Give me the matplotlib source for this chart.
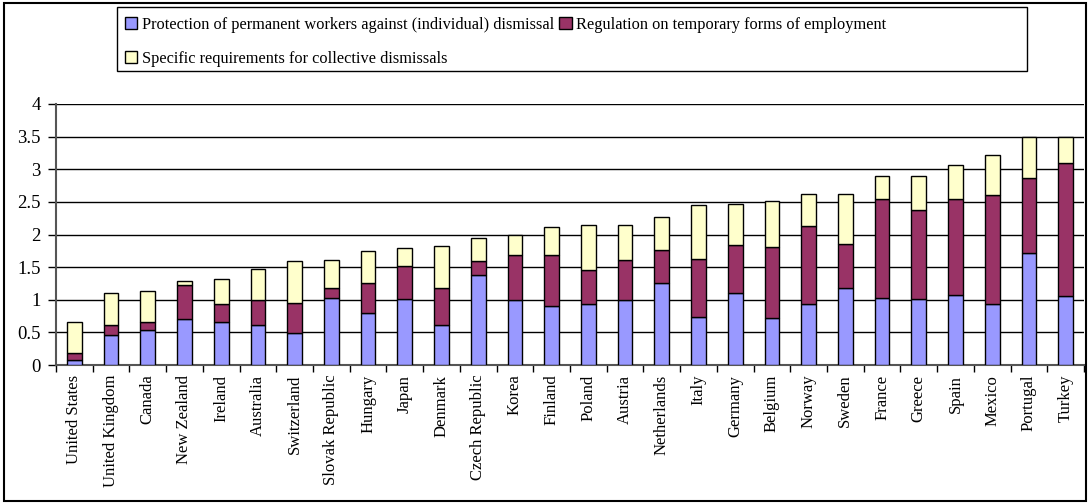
import numpy as np
import matplotlib
matplotlib.use('Agg')
import matplotlib.pyplot as plt
from matplotlib.patches import Rectangle

plt.rcParams['font.family'] = ['Liberation Serif', 'DejaVu Serif']

# Countries ordered by overall EPL strictness
countries = ['United States', 'United Kingdom', 'Canada', 'New Zealand', 'Ireland',
             'Australia', 'Switzerland', 'Slovak Republic', 'Hungary', 'Japan',
             'Denmark', 'Czech Republic', 'Korea', 'Finland', 'Poland', 'Austria',
             'Netherlands', 'Italy', 'Germany', 'Belgium', 'Norway', 'Sweden',
             'France', 'Greece', 'Spain', 'Mexico', 'Portugal', 'Turkey']

# Cumulative heights of each stacked component
regular = [0.07, 0.46, 0.54, 0.70, 0.66, 0.62, 0.49, 1.02, 0.79, 1.01,
           0.62, 1.38, 0.99, 0.91, 0.93, 0.99, 1.26, 0.74, 1.10, 0.72,
           0.93, 1.18, 1.02, 1.01, 1.08, 0.93, 1.72, 1.06]
temporary_top = [0.18, 0.62, 0.66, 1.22, 0.93, 0.99, 0.95, 1.18, 1.26, 1.52,
                 1.18, 1.59, 1.69, 1.69, 1.45, 1.61, 1.76, 1.62, 1.84, 1.81,
                 2.13, 1.86, 2.54, 2.37, 2.54, 2.60, 2.87, 3.10]
total = [0.66, 1.11, 1.13, 1.28, 1.32, 1.47, 1.59, 1.61, 1.75, 1.79,
         1.83, 1.94, 2.00, 2.12, 2.14, 2.15, 2.27, 2.45, 2.47, 2.51,
         2.62, 2.62, 2.89, 2.89, 3.06, 3.22, 3.50, 3.50]

labels = ['Protection of permanent workers against (individual) dismissal',
          'Regulation on temporary forms of employment',
          'Specific requirements for collective dismissals']
colors = ['#9999FF', '#993366', '#FFFFCC']

regular = np.array(regular)
temporary = np.array(temporary_top) - regular
collective = np.array(total) - np.array(temporary_top)

fig = plt.figure(figsize=(10.9, 5.03), dpi=100)
ax = fig.add_axes([56 / 1090, 1 - 365 / 503, 1028 / 1090, 261 / 503])

x = np.arange(len(countries))
w = 0.4
b1 = ax.bar(x, regular, w, color=colors[0], edgecolor='black', linewidth=1, zorder=3)
b2 = ax.bar(x, temporary, w, bottom=regular, color=colors[1], edgecolor='black',
            linewidth=1, zorder=3)
b3 = ax.bar(x, collective, w, bottom=np.array(temporary_top), color=colors[2],
            edgecolor='black', linewidth=1, zorder=3)

ax.set_xlim(-0.5, len(countries) - 0.5)
ax.set_ylim(0, 4)
ax.set_yticks(np.arange(0, 4.01, 0.5))
ax.set_yticklabels(['0', '0.5', '1', '1.5', '2', '2.5', '3', '3.5', '4'], fontsize=13.5)
ax.yaxis.grid(True, color='black', linewidth=1)
ax.set_axisbelow(True)

ax.set_xticks(x)
ax.set_xticklabels(countries, rotation=90, fontsize=12)
ax.set_xticks(np.arange(-0.5, len(countries)), minor=True)
ax.tick_params(axis='x', which='major', length=0, pad=7)
ax.tick_params(axis='x', which='minor', length=5, width=1, direction='out')
ax.tick_params(axis='y', length=6, width=1, direction='out', pad=5)

for side in ['top', 'right']:
    ax.spines[side].set_visible(False)
for side in ['left', 'bottom']:
    ax.spines[side].set_color('#555555')
    ax.spines[side].set_linewidth(1.5)

# Legend box at the top of the chart
fig.patches.append(Rectangle((117 / 1090, 1 - 71 / 503), 910 / 1090, 64 / 503,
                             transform=fig.transFigure, facecolor='white',
                             edgecolor='black', linewidth=1))
fig.legend([b1, b3, b2], [labels[0], labels[2], labels[1]], ncol=2,
           loc='upper left', bbox_to_anchor=(115 / 1090, 1 - 7 / 503),
           frameon=False, fontsize=11.8, handlelength=0.75, handleheight=0.75,
           handletextpad=0.3, columnspacing=0.3, labelspacing=1.1,
           borderaxespad=0.2)

# Outer chart border
fig.patches.append(Rectangle((4 / 1090, 2 / 503), 1082 / 1090, 498 / 503,
                             transform=fig.transFigure, fill=False,
                             edgecolor='black', linewidth=1.5))

fig.savefig('out.png', dpi=100)
